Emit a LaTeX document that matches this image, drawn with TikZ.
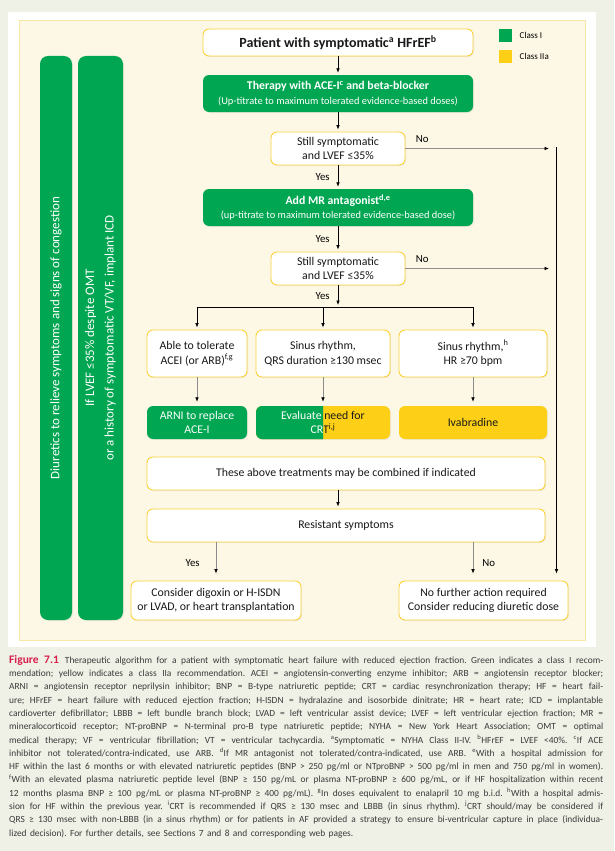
\documentclass[tikz,border=0pt]{standalone}
\usepackage{fontspec}
\setmainfont{Carlito}
\newfontfamily\capfont{Carlito}[WordSpace=1.6]
\usetikzlibrary{arrows.meta,positioning,shadows}

\definecolor{classone}{HTML}{00A651}
\definecolor{classtwo}{HTML}{FDD017}
\definecolor{boxline}{HTML}{F9D23C}
\definecolor{panel}{HTML}{FDF8E5}
\definecolor{panelline}{HTML}{F8E8A6}
\definecolor{pagegray}{HTML}{EFF0E6}
\definecolor{figred}{HTML}{D71F4B}
\definecolor{linegray}{HTML}{8C8C8C}
\definecolor{captext}{HTML}{3A3A3A}

\newcommand\crttext{Evaluate need for\\CRT\textsuperscript{i,j}}
\newcommand\capline[1]{\makebox[594pt][s]{#1}\\}

\tikzset{
  box/.style={rounded corners=6pt, align=center, inner sep=1pt, text=black!90,
    font=\fontsize{11.8}{14.5}\selectfont,
    drop shadow={shadow xshift=1pt, shadow yshift=-1pt, opacity=0.12}},
  whitebox/.style={box, draw=boxline, line width=0.9pt, fill=white},
  greenbox/.style={box, fill=classone, text=white},
  yellowbox/.style={box, fill=classtwo},
  arr/.style={-{Latex[length=4.5pt,width=3.6pt]}, line width=0.7pt, shorten >=2pt},
  grayarr/.style={arr, draw=linegray, -{Latex[length=4.5pt,width=3.6pt,color=black]}},
  lbl/.style={font=\fontsize{10.8}{12}\selectfont, inner sep=1pt},
}

\begin{document}
\frenchspacing
\begin{tikzpicture}[x=1pt, y=-1pt]
\useasboundingbox (0,0) rectangle (614,851);
% page and panel
\fill[pagegray] (0,0) rectangle (614,851);
\fill[white] (8,12) rectangle (596,647);
\filldraw[fill=panel, draw=panelline, line width=0.8pt] (19,20) rectangle (585,640);

% side bars
\node[greenbox, rotate=90, rounded corners=8pt, minimum width=564pt, minimum height=32pt,
  font=\fontsize{13}{15}\selectfont] (diuretics) at (56,338)
  {Diuretics to relieve symptoms and signs of congestion};
\node[greenbox, rotate=90, rounded corners=8pt, minimum width=564pt, minimum height=45pt,
  font=\fontsize{13}{19.5}\selectfont] (icd) at (100.5,338)
  {If LVEF ≤35\% despite OMT\\or a history of symptomatic VT/VF, implant ICD};

% legend
\node[fill=classone, minimum size=13pt, inner sep=0] (legone) at (505.5,35.5) {};
\node[right=4pt of legone, font=\fontsize{9}{10}\selectfont] {Class I};
\node[fill=classtwo, minimum size=13pt, inner sep=0] (legtwo) at (505.5,56.5) {};
\node[right=4pt of legtwo, font=\fontsize{9}{10}\selectfont] {Class IIa};

% main chain
\node[whitebox, minimum width=270pt, minimum height=27pt, font=\fontsize{14}{16}\selectfont\bfseries]
  (patient) at (338,42.5) {Patient with symptomatic\textsuperscript{a} HFrEF\textsuperscript{b}};
\node[greenbox, minimum width=270pt, minimum height=37pt] (therapy) at (338,93.5)
  {\textbf{Therapy with ACE-I\textsuperscript{c} and beta-blocker}\\
   {\fontsize{10.4}{12}\selectfont (Up-titrate to maximum tolerated evidence-based doses)}};
\node[whitebox, minimum width=134pt, minimum height=33pt] (still1) at (338,148.5)
  {Still symptomatic\\and LVEF ≤35\%};
\node[greenbox, minimum width=270pt, minimum height=37pt] (mra) at (338,207.5)
  {\textbf{Add MR antagonist\textsuperscript{d,e}}\\
   {\fontsize{10.4}{12}\selectfont (up-titrate to maximum tolerated evidence-based dose)}};
\node[whitebox, minimum width=134pt, minimum height=33pt] (still2) at (338,268.5)
  {Still symptomatic\\and LVEF ≤35\%};

% three options
\node[whitebox, minimum width=100pt, minimum height=47pt] (tolerate) at (197,353.5)
  {Able to tolerate\\ACEI (or ARB)\textsuperscript{f,g}};
\node[whitebox, minimum width=134pt, minimum height=47pt] (sinus) at (323,353.5)
  {Sinus rhythm,\\QRS duration ≥130 msec};
\node[whitebox, minimum width=148pt, minimum height=47pt] (sinushr) at (473,353.5)
  {Sinus rhythm,\textsuperscript{h}\\HR ≥70 bpm};

\node[greenbox, minimum width=100pt, minimum height=33pt] (arni) at (197,422.5)
  {ARNI to replace\\ACE-I};
\node[yellowbox, minimum width=134pt, minimum height=33pt] (crt) at (323,422.5) {\crttext};
\begin{scope}
  \clip (crt.south west) rectangle (crt.north);
  \node[greenbox, minimum width=134pt, minimum height=33pt] at (crt) {\crttext};
\end{scope}
\node[yellowbox, minimum width=148pt, minimum height=33pt] (ivab) at (473,422.5) {Ivabradine};

% lower part
\node[whitebox, minimum width=398pt, minimum height=33pt] (combine) at (346,473.5)
  {These above treatments may be combined if indicated};
\node[whitebox, minimum width=398pt, minimum height=33pt] (resist) at (346,525.5)
  {Resistant symptoms};
\node[whitebox, minimum width=170pt, minimum height=39pt] (digoxin) at (216,600.5)
  {Consider digoxin or H-ISDN\\or LVAD, or heart transplantation};
\node[whitebox, minimum width=169pt, minimum height=39pt] (nofurther) at (483.5,600.5)
  {No further action required\\Consider reducing diuretic dose};

% connectors
\coordinate (bus) at (338,307);
\coordinate (no1) at (551,148.5);
\coordinate (no2) at (551,268.5);
\coordinate (rtop) at (556.5,147);

\draw[arr] (patient) -- (therapy);
\draw[arr] (therapy) -- (still1);
\draw[arr] (still1) -- node[lbl, left=7pt] {Yes} (mra);
\draw[arr] (mra) -- node[lbl, left=7pt] {Yes} (still2);
\draw[arr] (still2) -- node[lbl, left=7pt] {Yes} (bus);
\draw[line width=0.7pt] (bus -| tolerate) -- (bus -| sinushr);
\foreach \n in {tolerate,sinus,sinushr}
  \draw[arr] (bus -| \n) -- (\n);
\foreach \a/\b in {tolerate/arni,sinus/crt,sinushr/ivab}
  \draw[grayarr, shorten >=4pt] (\a) -- (\b);

\draw[grayarr] (still1.east) -- node[lbl, pos=0, above right=5pt and 9pt] {No} (no1);
\draw[grayarr] (still2.east) -- node[lbl, pos=0, above right=5pt and 9pt] {No} (no2);
\draw[arr, shorten >=7pt] (rtop) -- (rtop |- nofurther.north);

\draw[arr] (combine.south -| still2) -- (resist.north -| still2);
\draw[grayarr, shorten >=7pt] (resist.south -| digoxin) -- node[lbl, pos=0.55, left=15pt] {Yes} (digoxin.north);
\draw[grayarr, shorten >=7pt] (resist.south -| sinushr) -- node[lbl, pos=0.55, right=8pt] {No} (nofurther.north -| sinushr);

% caption
\node[anchor=north west, inner sep=0, align=left, text=captext,
  font=\capfont\fontsize{9.4}{13.3}\selectfont] (caption) at (9,655) {%
\capline{{\color{figred}\bfseries\fontsize{11.5}{12}\selectfont Figure 7.1}\hspace{6pt}Therapeutic algorithm for a patient with symptomatic heart failure with reduced ejection fraction. Green indicates a class I recom-}
\capline{mendation; yellow indicates a class IIa recommendation. ACEI = angiotensin-converting enzyme inhibitor; ARB = angiotensin receptor blocker;}
\capline{ARNI = angiotensin receptor neprilysin inhibitor; BNP = B-type natriuretic peptide; CRT = cardiac resynchronization therapy; HF = heart fail-}
\capline{ure; HFrEF = heart failure with reduced ejection fraction; H-ISDN = hydralazine and isosorbide dinitrate; HR = heart rate; ICD = implantable}
\capline{cardioverter defibrillator; LBBB = left bundle branch block; LVAD = left ventricular assist device; LVEF = left ventricular ejection fraction; MR =}
\capline{mineralocorticoid receptor; NT-proBNP = N-terminal pro-B type natriuretic peptide; NYHA = New York Heart Association; OMT = optimal}
\capline{medical therapy; VF = ventricular fibrillation; VT = ventricular tachycardia. \textsuperscript{a}Symptomatic = NYHA Class II-IV. \textsuperscript{b}HFrEF = LVEF <40\%. \textsuperscript{c}If ACE}
\capline{inhibitor not tolerated/contra-indicated, use ARB. \textsuperscript{d}If MR antagonist not tolerated/contra-indicated, use ARB. \textsuperscript{e}With a hospital admission for}
\capline{HF within the last 6 months or with elevated natriuretic peptides (BNP > 250 pg/ml or NTproBNP > 500 pg/ml in men and 750 pg/ml in women).}
\capline{\textsuperscript{f}With an elevated plasma natriuretic peptide level (BNP ≥ 150 pg/mL or plasma NT-proBNP ≥ 600 pg/mL, or if HF hospitalization within recent}
\capline{12 months plasma BNP ≥ 100 pg/mL or plasma NT-proBNP ≥ 400 pg/mL). \textsuperscript{g}In doses equivalent to enalapril 10 mg b.i.d. \textsuperscript{h}With a hospital admis-}
\capline{sion for HF within the previous year. \textsuperscript{i}CRT is recommended if QRS ≥ 130 msec and LBBB (in sinus rhythm). \textsuperscript{j}CRT should/may be considered if}
\capline{QRS ≥ 130 msec with non-LBBB (in a sinus rhythm) or for patients in AF provided a strategy to ensure bi-ventricular capture in place (individua-}
lized decision). For further details, see Sections 7 and 8 and corresponding web pages.};
\end{tikzpicture}
\end{document}
